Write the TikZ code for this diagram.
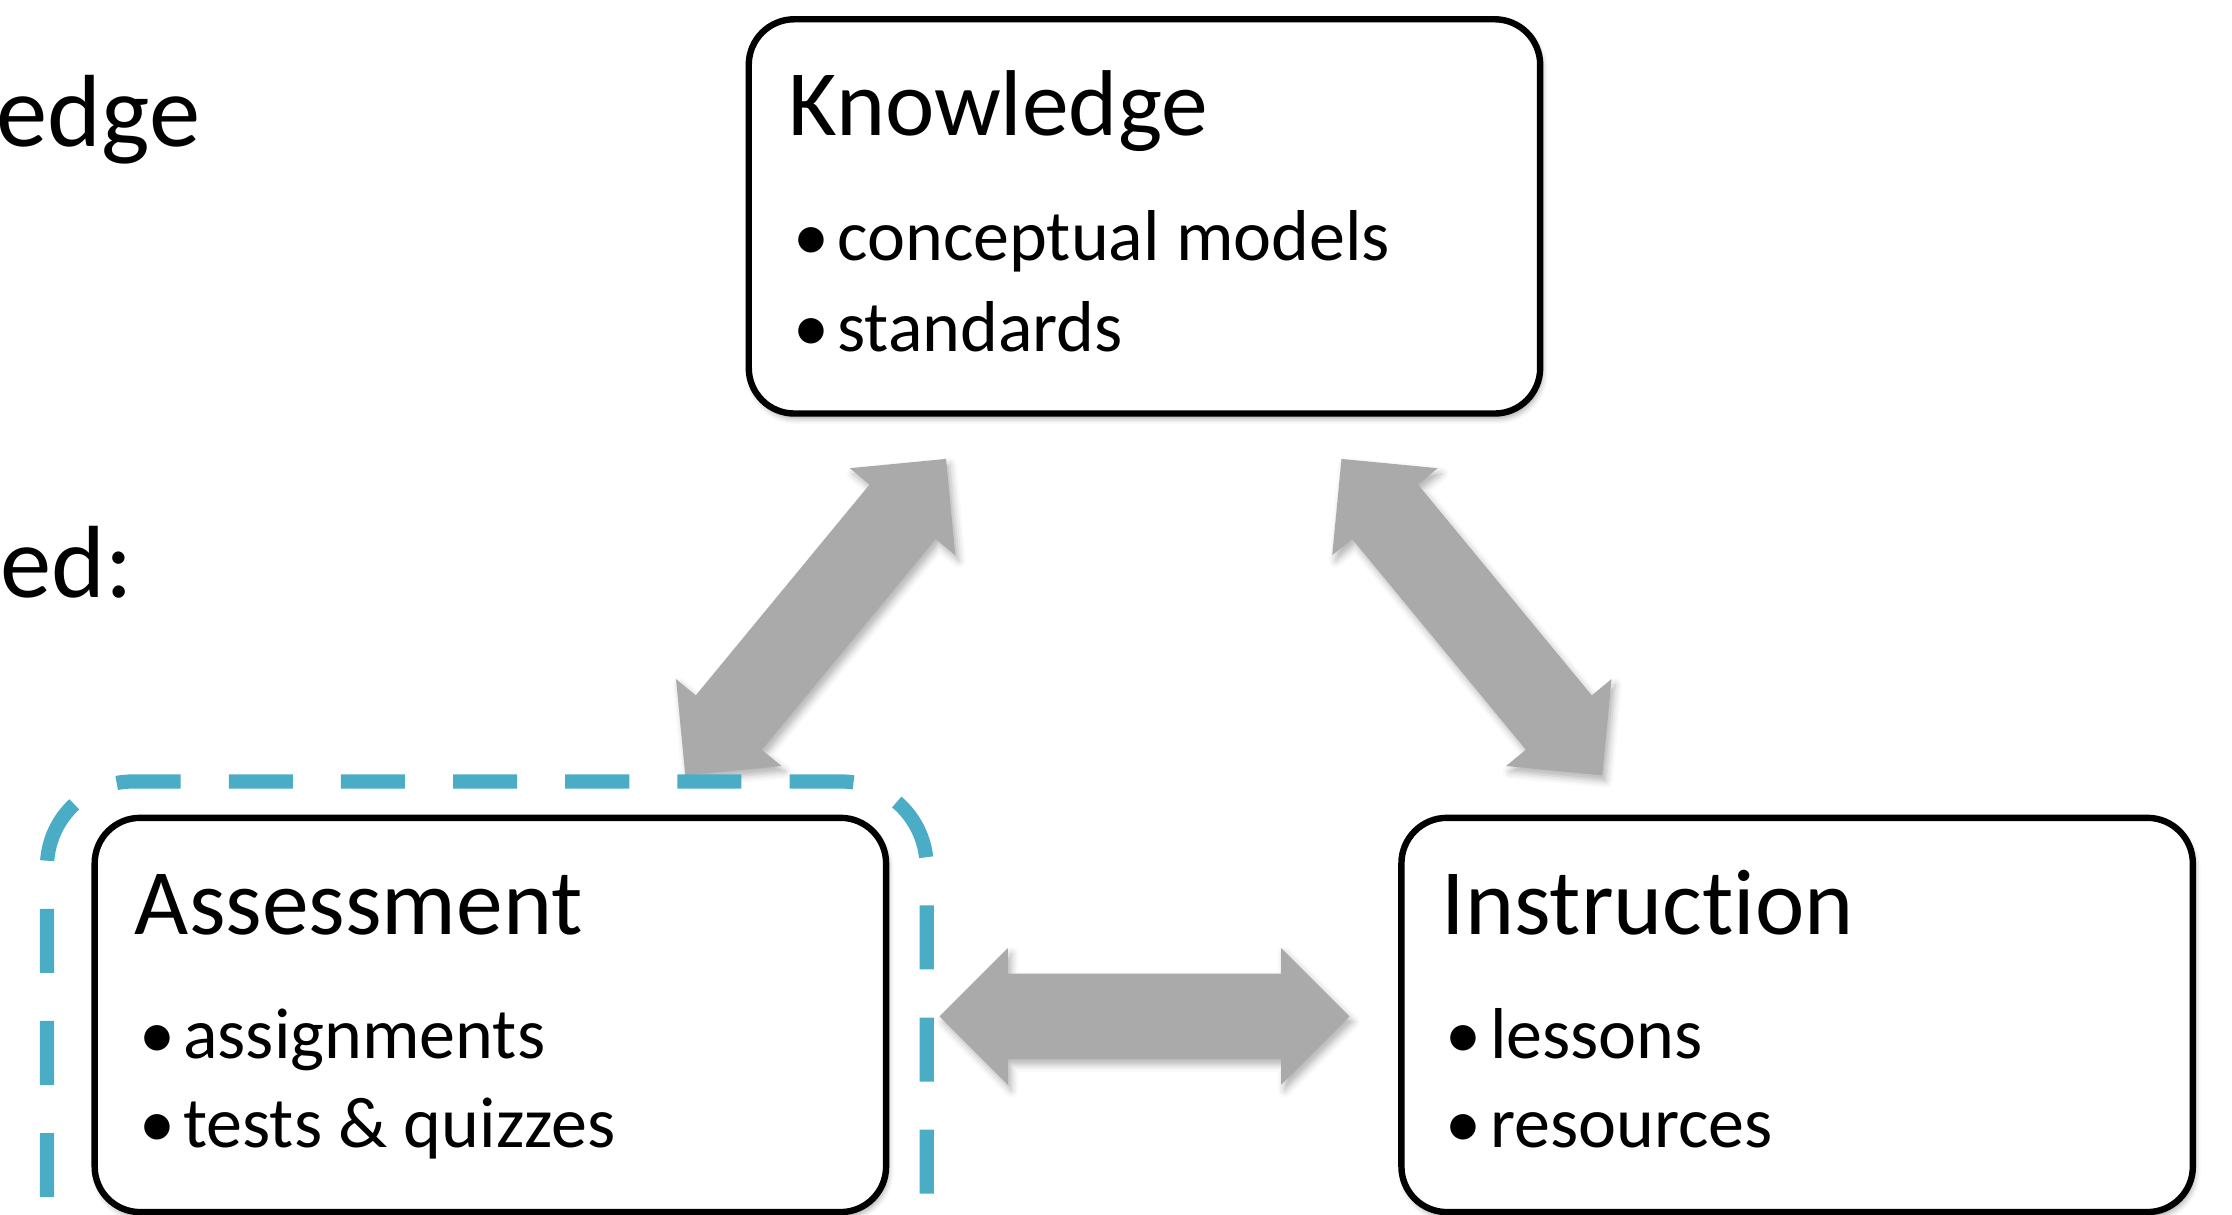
\documentclass[tikz,border=0pt]{standalone}
\usepackage{fontspec}
\setmainfont{Carlito}[Ligatures=NoCommon]
\usetikzlibrary{calc,shadows.blur}
\definecolor{arrowgray}{HTML}{AAAAAA}
\definecolor{dashblue}{HTML}{4BACC6}

\begin{document}
\begin{tikzpicture}[x=0.014235cm, y=-0.014235cm,
  box/.style={draw=black, fill=white, line width=0.064cm, rounded corners=0.455cm,
    minimum width=7.915cm, minimum height=3.943cm, inner sep=0pt,
    blur shadow={shadow xshift=0.6pt, shadow yshift=-1.4pt, shadow blur radius=1.6pt, shadow opacity=35}},
  title/.style={anchor=base west, inner sep=0pt, font=\fontsize{26.6pt}{31pt}\selectfont},
  bul/.style={anchor=base west, inner sep=0pt, font=\fontsize{20.5pt}{24pt}\selectfont},
  sidetext/.style={anchor=base east, inner sep=0pt, font=\fontsize{29.2pt}{34pt}\selectfont},
  blockarrow/.style={fill=arrowgray,
    blur shadow={shadow xshift=1pt, shadow yshift=-1.6pt, shadow blur radius=2pt, shadow opacity=30}},
  groupline/.style={draw=dashblue, line width=0.1424cm,
    dash pattern=on 0.6406cm off 0.4811cm, dash phase=0.6235cm}
]
\useasboundingbox (0,0) rectangle (1568,853);

% partially visible text at the left edge
\node[sidetext] (side1) at (141,103) {edge};
\node[sidetext] (side2) at (94,420) {ed:};

% the three boxes
\node[box] (K) at (804,152) {};
\node[box] (A) at (344.5,713) {};
\node[box] (I) at (1262.5,713) {};

% box contents
\node[title] (Kt) at ($(K.north west)+(30,84)$) {Knowledge};
\node[bul] (Kb1) at ($(K.north west)+(33,172)$) {•};
\node[bul] (Kl1) at ($(K.north west)+(64,172)$) {conceptual models};
\node[bul] (Kb2) at ($(K.north west)+(33,236)$) {•};
\node[bul] (Kl2) at ($(K.north west)+(64,236)$) {standards};

\node[title] (At) at ($(A.north west)+(30,84)$) {Assessment};
\node[bul] (Ab1) at ($(A.north west)+(33,171)$) {•};
\node[bul] (Al1) at ($(A.north west)+(64,171)$) {assignments};
\node[bul] (Ab2) at ($(A.north west)+(33,234)$) {•};
\node[bul] (Al2) at ($(A.north west)+(64,234)$) {tests \& quizzes};

\node[title] (It) at ($(I.north west)+(30,84)$) {Instruction};
\node[bul] (Ib1) at ($(I.north west)+(33,171)$) {•};
\node[bul] (Il1) at ($(I.north west)+(64,171)$) {lessons};
\node[bul] (Ib2) at ($(I.north west)+(33,234)$) {•};
\node[bul] (Il2) at ($(I.north west)+(64,234)$) {resources};

% double block arrows between the boxes
\coordinate (KA) at (573,433.5);
\coordinate (KI) at (1034,433.5);
\coordinate (AI) at (804,714);
\foreach \c/\ang in {KA/50.5, KI/-50.5, AI/0}{
  \begin{scope}[shift={(\c)}, rotate=\ang]
    \fill[blockarrow] (144,0) -- (96,48) -- (96,30) -- (-96,30) -- (-96,48)
      -- (-144,0) -- (-96,-48) -- (-96,-30) -- (96,-30) -- (96,-48) -- cycle;
  \end{scope}
}

% dashed outline around the assessment box
\coordinate (g1) at (33,876);
\coordinate (g2) at (651,876);
\draw[groupline] (g1) -- (33,609) arc[start angle=180, end angle=90, radius=0.8541cm]
  -- (591,549) arc[start angle=90, end angle=0, radius=0.8541cm] -- (g2);
\end{tikzpicture}
\end{document}
